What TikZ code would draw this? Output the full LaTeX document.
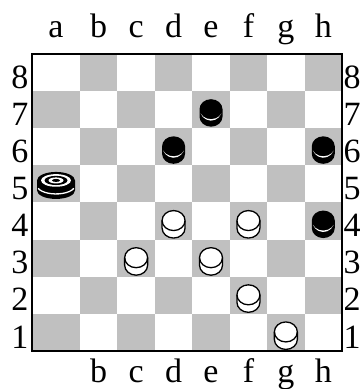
\documentclass[tikz,border=0pt]{standalone}
\usepackage{fontspec}
\setmainfont{Liberation Serif}
\usepackage{xcolor}
\usepackage{tikz}
\definecolor{boardgrey}{RGB}{192,192,192}
\tikzset{
  coord/.style={font=\fontsize{34}{36}\selectfont, inner sep=0pt, anchor=base},
  rank/.style={font=\fontsize{34}{36}\selectfont, inner sep=0pt, anchor=base},
  frame/.style={draw=black, line width=2.5pt},
  blackman/.pic={
    \fill[black] (-11.5,0.5) arc[start angle=180, end angle=0, x radius=11.5, y radius=10] -- (11.5,-7)
      arc[start angle=0, end angle=-180, x radius=11.5, y radius=10] -- cycle;
    \fill[white] (0,0.5) ++(205:11.5 and 10) arc[start angle=205, end angle=335, x radius=11.5, y radius=10]
      arc[start angle=335, end angle=205, x radius=11.5, y radius=12.5] -- cycle;
  },
  whiteman/.pic={
    \filldraw[fill=white, draw=black, line width=1.3pt] (-11.5,0.5) arc[start angle=180, end angle=0, x radius=11.5, y radius=10] -- (11.5,-7)
      arc[start angle=0, end angle=-180, x radius=11.5, y radius=10] -- cycle;
    \draw[black, line width=1.3pt] (-11.5,0.5) arc[start angle=180, end angle=360, x radius=11.5, y radius=10];
  },
  blackking/.pic={
    \fill[black] (-19,3.5) arc[start angle=180, end angle=0, x radius=19, y radius=8.5] -- (19,-6.5)
      arc[start angle=0, end angle=-180, x radius=19, y radius=8.5] -- cycle;
    \fill[white] (0,3.5) ellipse[x radius=15, y radius=6.3];
    \fill[black] (0,3.5) ellipse[x radius=11.5, y radius=4.6];
    \fill[white] (0,3.5) ellipse[x radius=7.5, y radius=3];
    \fill[black] (0,3.5) ellipse[x radius=4, y radius=1.5];
    \draw[white, line width=1.3pt] (0,-1.5) ++(200:19 and 8.5) arc[start angle=200, end angle=340, x radius=19, y radius=8.5];
  },
}

\begin{document}
\begin{tikzpicture}[x=1pt, y=1pt]
\useasboundingbox (0,0) rectangle (360,389);
\foreach \c/\l/\r [count=\i] in {a/32/80, b/80/117.43, c/117.43/154.86, d/154.86/192.29, e/192.29/229.71, f/229.71/267.14, g/267.14/304.57, h/304.57/342}{
  \foreach \n in {1,...,8}{
    \pgfmathsetmacro{\yb}{38+(\n-1)*37.125}
    \pgfmathtruncatemacro{\odd}{mod(\i+\n,2)}
    \ifnum\odd=0 \fill[boardgrey] (\l,\yb) rectangle (\r,\yb+37.125); \fi
    \coordinate (\c\n) at ({(\l+\r)/2},\yb+18.56);
  }
  \node[coord] (top-\c) at ({(\l+\r)/2},351) {\c};
}
\foreach \c in {b,c,d,e,f,g,h}
  \node[coord] (bot-\c) at (\c1 |- 0,6) {\c};
\foreach \n in {1,...,8}{
  \node[rank] (left-\n) at (20,{38+(\n-1)*37.125+3}) {\n};
  \node[rank] (right-\n) at (352,{38+(\n-1)*37.125+3}) {\n};
}
\draw[frame] (32,38) rectangle (342,335);
\foreach \s in {e7,d6,h6,h4}
  \path (\s) pic {blackman};
\foreach \s in {d4,f4,c3,e3,f2,g1}
  \path (\s) pic {whiteman};
\path (a5) pic {blackking};
\end{tikzpicture}
\end{document}
